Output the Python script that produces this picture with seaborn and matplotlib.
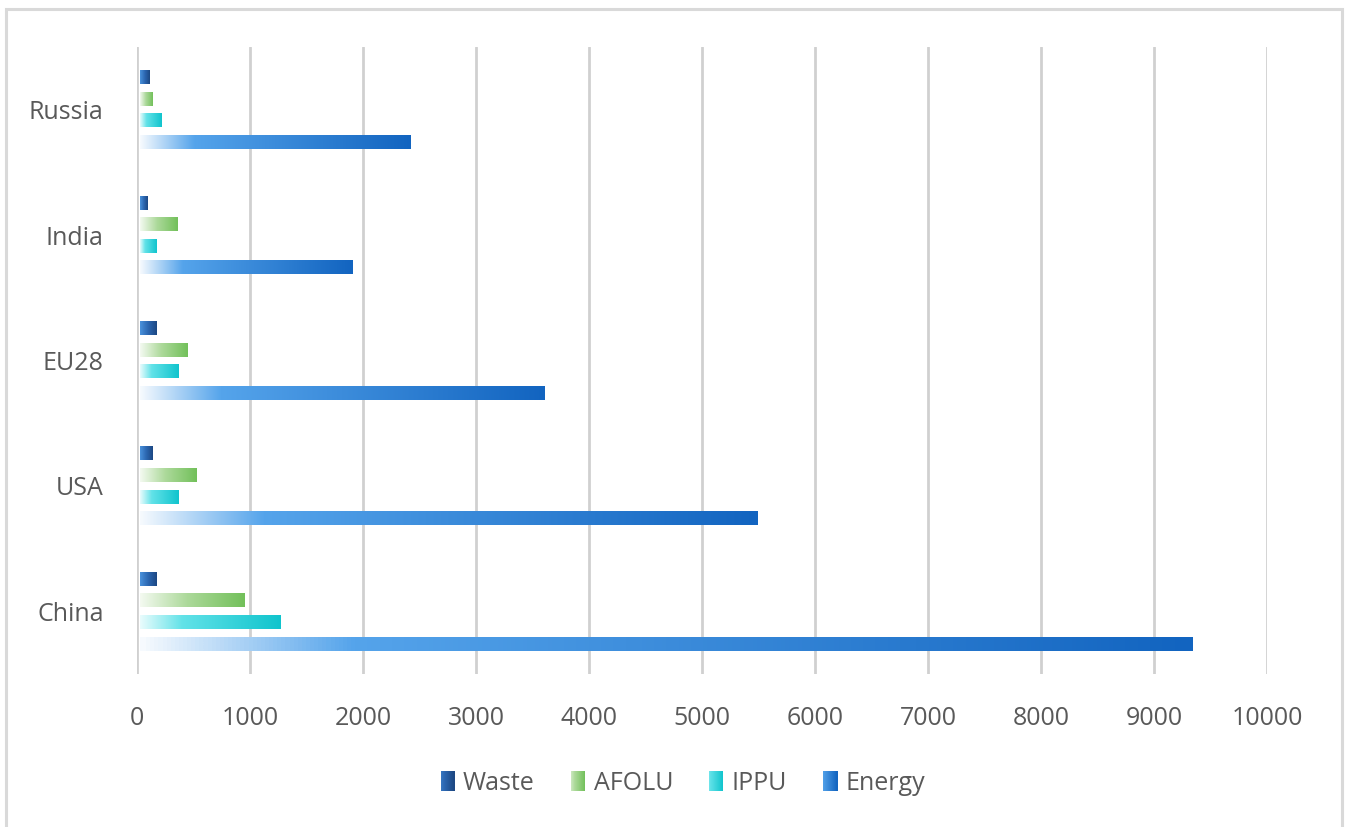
import numpy as np
import pandas as pd
import matplotlib
matplotlib.use("Agg")
import matplotlib.pyplot as plt
from matplotlib.colors import LinearSegmentedColormap
from matplotlib.patches import Rectangle, Patch
from matplotlib.legend_handler import HandlerBase
import seaborn as sns

# data (top to bottom as drawn)
countries = ["Russia", "India", "EU28", "USA", "China"]
sectors = ["Waste", "AFOLU", "IPPU", "Energy"]
waste = [108, 94, 168, 133, 168]
afolu = [136, 360, 442, 522, 947]
ippu = [212, 168, 363, 363, 1272]
energy = [2418, 1905, 3602, 5487, 9340]
x_ticks = list(range(0, 10001, 1000))

sns.set_style("white")
plt.rcParams["font.family"] = ["Open Sans", "DejaVu Sans"]
text_color = "#595959"

# gradient fills, light on the left, full colour on the right
cmaps = {
    "Waste": LinearSegmentedColormap.from_list("w", ["#4a92dc", "#2b66b0", "#1c4782"]),
    "AFOLU": LinearSegmentedColormap.from_list("a", [(0, "#f4faf1"), (0.45, "#acd99a"), (1, "#72c05a")]),
    "IPPU": LinearSegmentedColormap.from_list("i", [(0, "#e9fcfd"), (0.3, "#62e2e8"), (1, "#10c4cd")]),
    "Energy": LinearSegmentedColormap.from_list("e", [(0, "#f6fafe"), (0.2, "#55a4eb"), (1, "#1264c0")]),
}

vals = {"Waste": waste, "AFOLU": afolu, "IPPU": ippu, "Energy": energy}
rows = []
for s in sectors:
    for c, v in zip(countries, vals[s]):
        rows.append({"country": c, "sector": s, "value": v})
df = pd.DataFrame(rows)

fig = plt.figure(figsize=(13.46, 8.27), dpi=100)
ax = fig.add_axes([137 / 1346, 1 - 674 / 827, (1267 - 137) / 1346, (674 - 47) / 827])

sns.barplot(data=df, x="value", y="country", hue="sector", order=countries,
            hue_order=sectors, orient="h", width=0.69, gap=0.36,
            legend=False, ax=ax, palette=["#000000"] * 4)

grad = np.linspace(0, 1, 256).reshape(1, -1)
for s, cont in zip(sectors, ax.containers):
    for p in cont.patches:
        x0, y0 = p.get_x(), p.get_y()
        w, h = p.get_width(), p.get_height()
        p.set_visible(False)
        # bars start a hair right of the zero line
        ax.imshow(grad, cmap=cmaps[s], aspect="auto", interpolation="bilinear",
                  extent=[x0 + 25, x0 + w, y0 + h, y0], zorder=3)

ax.set_xlim(0, 10000)
ax.set_ylim(4.5, -0.5)
ax.set_xticks(x_ticks)
ax.set_xticklabels([str(t) for t in x_ticks])
ax.xaxis.grid(True, color="#d0d0d0", lw=2.0, zorder=0)
ax.yaxis.grid(False)
ax.set_axisbelow(True)
for sp in ax.spines.values():
    sp.set_visible(False)
ax.tick_params(axis="both", length=0, labelsize=18, labelcolor=text_color)
ax.tick_params(axis="x", pad=23)
ax.tick_params(axis="y", pad=24)
ax.set_xlabel("")
ax.set_ylabel("")


class GradientHandler(HandlerBase):
    def __init__(self, cmap):
        super().__init__()
        self.cmap = cmap

    def create_artists(self, legend, orig_handle, xdescent, ydescent,
                       width, height, fontsize, trans):
        n = 14
        arts = []
        for i in range(n):
            arts.append(Rectangle((-xdescent + width * i / n, -ydescent - 1),
                                  width / n + 0.3, height + 2,
                                  facecolor=self.cmap(0.25 + 0.75 * (i + 0.5) / n),
                                  edgecolor="none", transform=trans))
        return arts


handles = [Patch(label=s) for s in sectors]
hmap = {h: GradientHandler(cmaps[s]) for h, s in zip(handles, sectors)}
leg = fig.legend(handles=handles, handler_map=hmap, loc="center",
                 bbox_to_anchor=(683 / 1346, 1 - 783 / 827), ncol=4, frameon=False,
                 fontsize=18, handlelength=0.55, handleheight=0.7,
                 handletextpad=0.35, columnspacing=1.45)
for t in leg.get_texts():
    t.set_color(text_color)

# outer chart frame
fig.add_artist(Rectangle((6 / 1346, -0.1), (1342 - 6) / 1346, 1.1 - 9.5 / 827,
                         transform=fig.transFigure, fill=False,
                         edgecolor="#d9d9d9", lw=2.2))

fig.savefig("out.png", dpi=100)
